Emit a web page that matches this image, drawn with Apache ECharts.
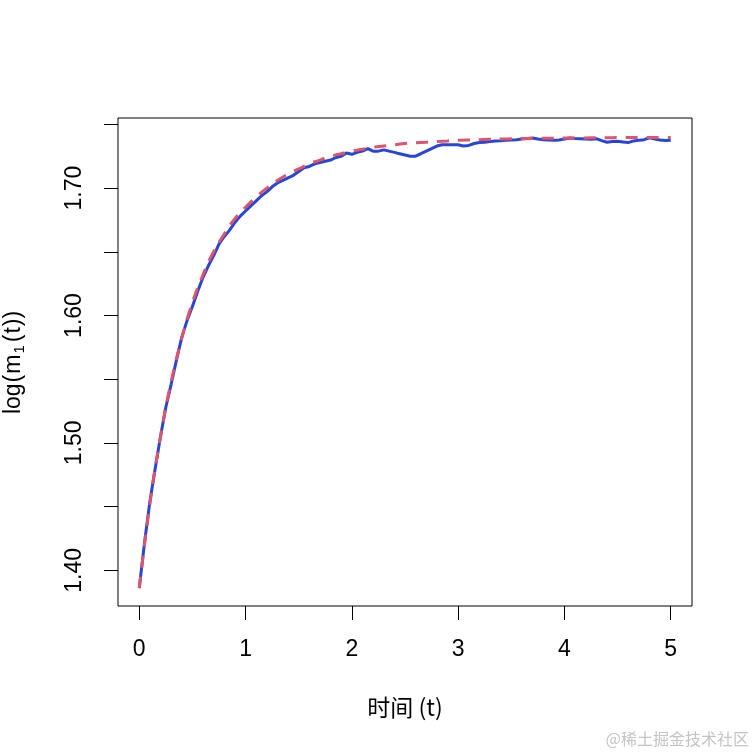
<!DOCTYPE html>
<html>
<head>
<meta charset="utf-8">
<script src="https://cdn.jsdelivr.net/npm/echarts@6/dist/echarts.min.js"></script>
<style>
  html, body { margin: 0; padding: 0; background: #fff; }
  #main { width: 753px; height: 753px; }
</style>
</head>
<body>
<div id="main"></div>
<script>
// simulated path, read every 0.05 from t = 0 to 5
var simStep = 0.05;
var simValues = [
  1.386, 1.422, 1.454, 1.480, 1.505, 1.528, 1.546, 1.565, 1.583, 1.596,
  1.607, 1.619, 1.630, 1.639, 1.647, 1.656, 1.662, 1.667, 1.673, 1.678,
  1.682, 1.686, 1.690, 1.694, 1.697, 1.701, 1.704, 1.706, 1.708, 1.710,
  1.713, 1.716, 1.717, 1.719, 1.720, 1.721, 1.722, 1.724, 1.725, 1.7275,
  1.7265, 1.728, 1.729, 1.731, 1.729, 1.729, 1.730, 1.729, 1.728, 1.727,
  1.726, 1.725, 1.725, 1.727, 1.729, 1.731, 1.733, 1.734, 1.734, 1.734,
  1.734, 1.733, 1.7335, 1.735, 1.7357, 1.736, 1.7365, 1.737, 1.7372, 1.7375,
  1.7378, 1.738, 1.7385, 1.739, 1.7393, 1.7385, 1.738, 1.7377, 1.7375, 1.7377,
  1.7385, 1.7393, 1.739, 1.7388, 1.7385, 1.7383, 1.7388, 1.7372, 1.736, 1.7365,
  1.7367, 1.7362, 1.7357, 1.737, 1.7375, 1.738, 1.7395, 1.7385, 1.7378, 1.7373,
  1.7375
];
// theoretical curve, read every 0.1
var fitStep = 0.1;
var fitValues = [
  1.386, 1.452, 1.505, 1.548, 1.582, 1.610, 1.632, 1.650, 1.664, 1.676,
  1.685, 1.693, 1.700, 1.706, 1.711, 1.715, 1.719, 1.722, 1.725, 1.727,
  1.729, 1.7305, 1.732, 1.733, 1.734, 1.735, 1.7355, 1.736, 1.7366, 1.737,
  1.7375, 1.7378, 1.738, 1.7383, 1.7385, 1.7387, 1.7389, 1.739, 1.7391, 1.7392,
  1.7393, 1.7394, 1.7394, 1.7395, 1.7395, 1.7396, 1.7396, 1.7396, 1.7397, 1.7397,
  1.7397
];
var xTicks = [0, 1, 2, 3, 4, 5];
var yTicks = [1.40, 1.45, 1.50, 1.55, 1.60, 1.65, 1.70, 1.75];
var yLabels = [1.40, 1.50, 1.60, 1.70];

function pairs(step, vals) {
  return vals.map(function (v, i) { return [+(i * step).toFixed(3), v]; });
}

var chart = echarts.init(document.getElementById('main'));
var font = 'Liberation Sans, Arial, sans-serif';

chart.setOption({
  animation: false,
  backgroundColor: '#fff',
  grid: {
    left: 118, top: 118, width: 574, height: 488,
    outerBoundsMode: 'none', containLabel: false,
    show: true, borderColor: '#000', borderWidth: 1, backgroundColor: 'transparent'
  },
  xAxis: {
    type: 'value', min: -0.2, max: 5.2,
    splitLine: { show: false },
    axisLine: { show: false, onZero: false },
    axisTick: { show: true, length: 14, customValues: xTicks, lineStyle: { color: '#000', width: 1 } },
    axisLabel: { customValues: xTicks, margin: 32, fontSize: 23, color: '#000', fontFamily: font },
    name: '时间 (t)', nameLocation: 'middle', nameGap: 90,
    nameTextStyle: { fontSize: 23, color: '#000', fontFamily: 'Noto Sans CJK SC, sans-serif' }
  },
  yAxis: {
    type: 'value', min: 1.372, max: 1.755,
    splitLine: { show: false },
    axisLine: { show: false, onZero: false },
    axisTick: { show: true, length: 14, customValues: yTicks, lineStyle: { color: '#000', width: 1 } },
    axisLabel: {
      customValues: yLabels, rotate: 90, margin: 32, fontSize: 23, color: '#000', fontFamily: font,
      formatter: function (v) { return v.toFixed(2); }
    },
    name: 'log{p|(}m{s|1}{p|(}t{p|))}', nameLocation: 'middle', nameRotate: 90, nameGap: 91,
    nameTextStyle: {
      fontSize: 23, color: '#000', fontFamily: font,
      rich: {
        s: { fontSize: 15, color: '#000', fontFamily: font, padding: [12, 2, 0, 1] },
        p: { fontSize: 23, color: '#000', fontFamily: font, padding: [0, 1, 0, 1] }
      }
    }
  },
  series: [
    {
      type: 'line', data: pairs(simStep, simValues), symbol: 'none',
      lineStyle: { color: '#2646d8', width: 3 }
    },
    {
      type: 'line', data: pairs(fitStep, fitValues), symbol: 'none', smooth: true,
      lineStyle: { color: '#df536b', width: 3, type: [12, 9] }
    }
  ],
  graphic: [
    {
      type: 'text', right: 4, bottom: 6,
      style: { text: '@稀土掘金技术社区', fontSize: 16, fill: '#c4c4c4', fontFamily: 'Noto Sans CJK SC, sans-serif' }
    }
  ]
});
</script>
</body>
</html>
